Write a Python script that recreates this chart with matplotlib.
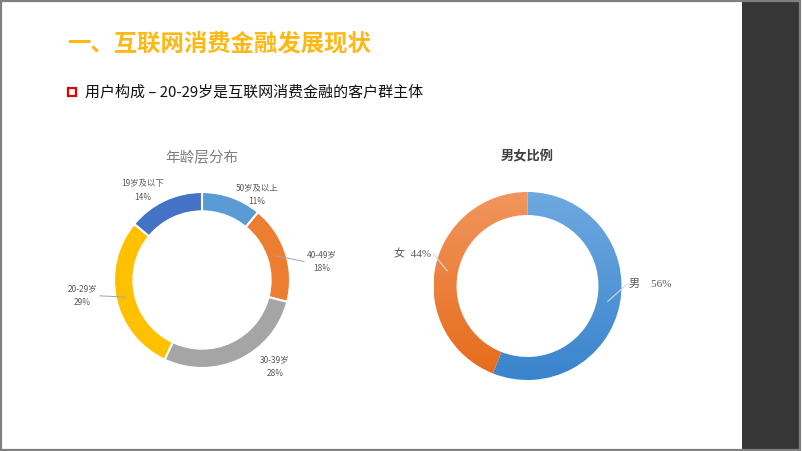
import numpy as np
import matplotlib
matplotlib.use("Agg")
import matplotlib.pyplot as plt
from matplotlib.patches import Rectangle
from matplotlib.lines import Line2D
from matplotlib.colors import LinearSegmentedColormap

plt.rcParams['font.family'] = ['Noto Sans CJK SC', 'DejaVu Sans']

# ---------------- data ----------------
page_title = "一、互联网消费金融发展现状"
subtitle = "用户构成 – 20-29岁是互联网消费金融的客户群主体"

age_title = "年龄层分布"
age_labels = ["50岁及以上", "40-49岁", "30-39岁", "20-29岁", "19岁及以下"]
age_values = [11, 18, 28, 29, 14]
age_colors = ["#5B9BD5", "#ED7D31", "#A5A5A5", "#FFC000", "#4472C4"]

sex_title = "男女比例"
sex_labels = ["男", "女"]
sex_values = [56, 44]
sex_grad = [("#6EA9E0", "#3A84CD"), ("#F2955E", "#E56B1A")]

# label placement (data units, radius 1 = outer ring)
age_label_pos = [(0.625, 0.97), (1.36, 0.21), (0.83, -0.98), (-1.36, -0.18), (-0.67, 1.02)]
age_leader = [False, True, False, True, False]
sex_label_pos = [(1.08, 0.02), (-1.03, 0.34)]

W, H = 802, 451
fig = plt.figure(figsize=(W / 100, H / 100), dpi=100)
fig.patch.set_facecolor("white")

# dark side bar and frame
fig.add_artist(Rectangle((742 / W, 0), (800 - 742) / W, 1, transform=fig.transFigure,
                         facecolor="#363636", edgecolor="none", zorder=0))
fig.add_artist(Rectangle((0.001, 0.002), 0.997, 0.996, transform=fig.transFigure,
                         facecolor="none", edgecolor="#7F7F7F", linewidth=1.6, zorder=5))

# headings
fig.text(67 / W, 1 - 43 / H, page_title, fontsize=16.8, fontweight="bold", color="#FDB813",
         ha="left", va="center")
fig.add_artist(Line2D([72 / W], [1 - 92 / H], transform=fig.transFigure, marker="s",
                      markersize=5.5, markerfacecolor="white", markeredgecolor="#E00000",
                      markeredgewidth=1.6, linestyle="none"))
fig.text(85 / W, 1 - 92 / H, subtitle, fontsize=10.8, color="#111111", ha="left", va="center")

serif_cjk = ['Liberation Serif', 'Noto Sans CJK SC']

# ---------------- left donut ----------------
R1 = 88
cx1, cy1 = 202, H - 280
s1 = R1 * 3
ax1 = fig.add_axes([(cx1 - s1 / 2) / W, (cy1 - s1 / 2) / H, s1 / W, s1 / H])
wedges, _ = ax1.pie(age_values, colors=age_colors, startangle=90, counterclock=False,
                    radius=1.0, wedgeprops=dict(width=0.22, edgecolor="white", linewidth=1.5))
ax1.set_xlim(-1.5, 1.5)
ax1.set_ylim(-1.5, 1.5)
ax1.set_aspect("equal")
ax1.axis("off")
ax1.text(0, 1.38, age_title, ha="center", va="center", fontsize=10.5, color="#7F7F7F",
         family=serif_cjk)
total = sum(age_values)
for w, lab, v, pos, lead in zip(wedges, age_labels, age_values, age_label_pos, age_leader):
    txt = f"{lab}\n{round(100 * v / total)}%"
    ang = np.deg2rad((w.theta1 + w.theta2) / 2)
    if lead:
        px, py = 0.89 * np.cos(ang), 0.89 * np.sin(ang)
        ex = pos[0] - np.sign(pos[0]) * 0.2
        ax1.plot([px, ex], [py, pos[1]], color="#A6A6A6", linewidth=0.7)
    ax1.text(pos[0], pos[1], txt, ha="center", va="center", fontsize=6.0, color="#595959",
             linespacing=1.7)

# ---------------- right donut ----------------
R2 = 94
cx2, cy2 = 527.5, H - 286
s2 = R2 * 3
ax2 = fig.add_axes([(cx2 - s2 / 2) / W, (cy2 - s2 / 2) / H, s2 / W, s2 / H])
wedges2, _ = ax2.pie(sex_values, colors=["none", "none"], startangle=90, counterclock=False,
                     radius=1.0, wedgeprops=dict(width=0.245, edgecolor="none", linewidth=0))
grad = np.linspace(0, 1, 256).reshape(-1, 1)
for w, (c_top, c_bot) in zip(wedges2, sex_grad):
    cmap = LinearSegmentedColormap.from_list("g", [c_top, c_bot])
    im = ax2.imshow(grad, extent=[-1, 1, -1, 1], origin="upper", cmap=cmap, aspect="auto",
                    zorder=1)
    im.set_clip_path(w)
ax2.set_xlim(-1.5, 1.5)
ax2.set_ylim(-1.5, 1.5)
ax2.set_aspect("equal")
ax2.axis("off")
ax2.text(0, 1.375, sex_title, ha="center", va="center", fontsize=9.5, fontweight="bold",
         color="#404040")
tot2 = sum(sex_values)
for w, lab, v, pos in zip(wedges2, sex_labels, sex_values, sex_label_pos):
    ang = np.deg2rad((w.theta1 + w.theta2) / 2)
    px, py = 0.87 * np.cos(ang), 0.87 * np.sin(ang)
    right = pos[0] > 0
    ex = pos[0] - 0.02 if right else pos[0] + 0.03
    ax2.plot([px, ex], [py, pos[1]], color="#D9D9D9", linewidth=0.8, zorder=3)
    pct = round(100 * v / tot2)
    txt = f"{lab}    {pct}%" if right else f"{lab}  {pct}%"
    ax2.text(pos[0], pos[1], txt, ha="left" if right else "right", va="center", fontsize=8,
             color="#595959", family=serif_cjk)

fig.savefig("out.png", dpi=100)
